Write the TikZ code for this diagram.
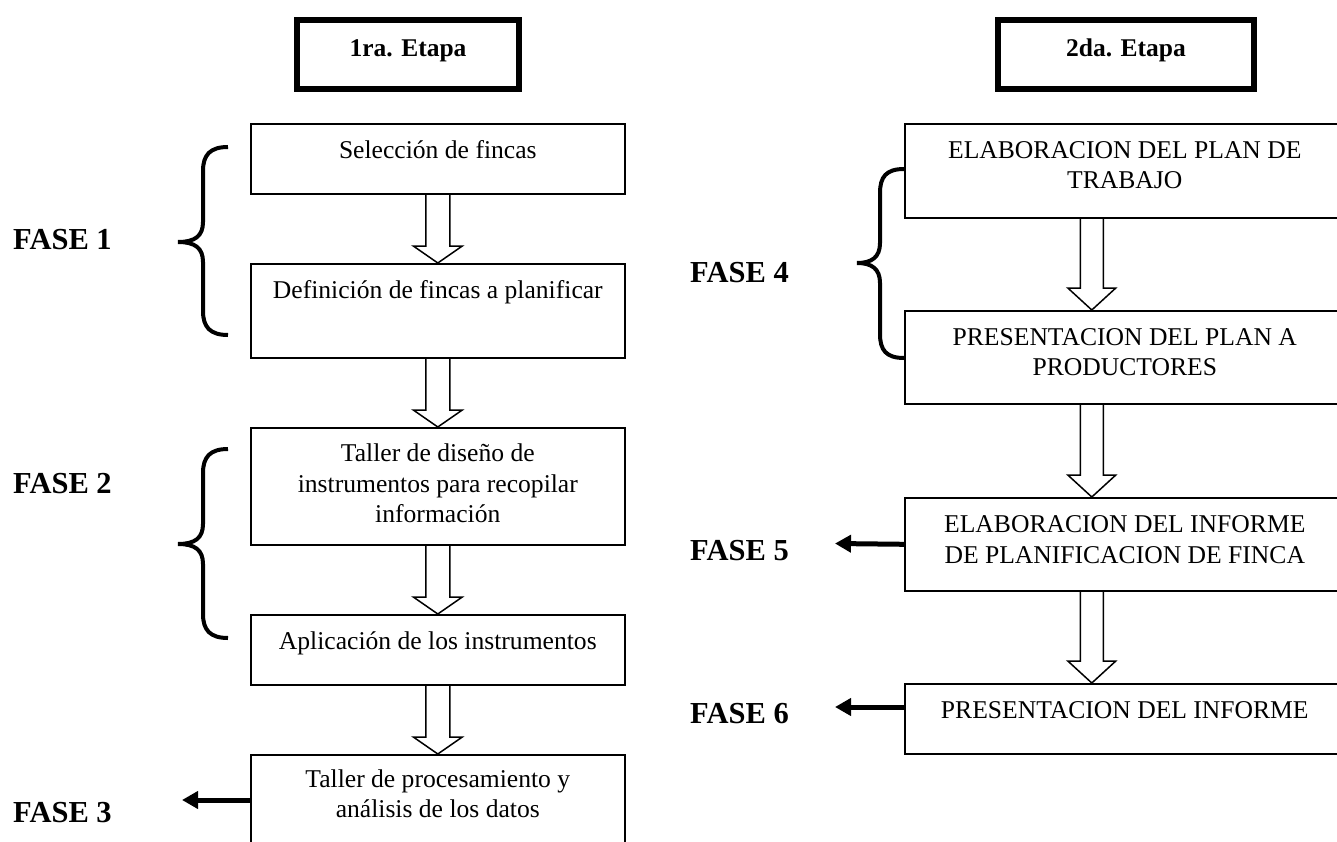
\documentclass[tikz,border=0pt]{standalone}
\usepackage{fontspec}
\setmainfont{Liberation Serif}
\usetikzlibrary{arrows.meta,calc}

\tikzset{
  stagebox/.style={draw, line width=6pt, inner sep=0pt},
  stagetext/.style={font=\bfseries\fontsize{25.5}{30}\selectfont, anchor=base, inner sep=0pt},
  flowbox/.style={draw, line width=1.6pt, inner sep=0pt, anchor=north west},
  boxtext/.style={font=\fontsize{25.6}{30.5}\selectfont, align=center, anchor=north, inner sep=0pt},
  faselabel/.style={font=\bfseries\fontsize{30.5}{34}\selectfont, anchor=base west, inner sep=0pt},
  bracepath/.style={line width=4pt},
  sidearrow/.style={line width=5pt, -{Triangle[length=16pt,width=17pt]}},
  blockarrow/.style={line width=1.5pt, line join=miter},
}

% block arrow from bottom of #1 to top of #2; #3 half shaft, #4 half head, #5 head length, #6 x offset
\newcommand\blockarr[6]{%
  \draw[blockarrow] let \p1=([xshift=#6pt]#1.south), \p2=(#2.north) in
   (\x1-#3pt,\y1) -- (\x1-#3pt,\y2+#5pt) -- (\x1-#4pt,\y2+#5pt) -- (\x1,\y2)
   -- (\x1+#4pt,\y2+#5pt) -- (\x1+#3pt,\y2+#5pt) -- (\x1+#3pt,\y1);}

% curly brace: #1 x of ends, #2 x of tip, #3 y top, #4 y tip, #5 y bottom, #6 x of spine
\newcommand\curlybrace[6]{%
  \draw[bracepath] (#1,#3) .. controls (#1-18,#3) and (#6,#3+8) .. (#6,#3+24)
    -- (#6,#4-20) .. controls (#6,#4-6) and (#6-8,#4) .. (#2,#4)
    .. controls (#6-8,#4) and (#6,#4+6) .. (#6,#4+20)
    -- (#6,#5-24) .. controls (#6,#5-8) and (#1-18,#5) .. (#1,#5);}

\begin{document}
\begin{tikzpicture}[x=1pt,y=-1pt]
\useasboundingbox (0,0) rectangle (1337,842);
\clip (0,0) rectangle (1337,842);
\fill[white] (0,0) rectangle (1337,842);

% stage headers
\node[stagebox, minimum width=222pt, minimum height=69pt] (e1) at (408,54.5) {};
\node[stagetext] (e1t) at ([yshift=-2.5pt]e1.center) {1ra. Etapa};
\node[stagebox, minimum width=256pt, minimum height=69pt] (e2) at (1126,54.5) {};
\node[stagetext] (e2t) at ([yshift=-2.5pt]e2.center) {2da. Etapa};

% left column
\node[flowbox, minimum width=374pt, minimum height=70pt] (b1) at (250,123) {};
\node[boxtext] (b1t) at ([yshift=-17.5pt]b1.north) {Selección de fincas};
\node[flowbox, minimum width=374pt, minimum height=94pt] (b2) at (250,263) {};
\node[boxtext] (b2t) at ([yshift=-17.5pt]b2.north) {Definición de fincas a planificar};
\node[flowbox, minimum width=374pt, minimum height=117pt] (b3) at (250,427) {};
\node[boxtext] (b3t) at ([yshift=-17pt]b3.north) {Taller de diseño de\\instrumentos para recopilar\\información};
\node[flowbox, minimum width=374pt, minimum height=70pt] (b4) at (250,614) {};
\node[boxtext] (b4t) at ([yshift=-17pt]b4.north) {Aplicación de los instrumentos};
\node[flowbox, minimum width=374pt, minimum height=120pt] (b5) at (250,754) {};
\node[boxtext] (b5t) at ([yshift=-15.5pt]b5.north) {Taller de procesamiento y\\análisis de los datos};

% right column
\node[flowbox, minimum width=440pt, minimum height=94pt] (r1) at (904,123) {};
\node[boxtext] (r1t) at ([yshift=-18pt]r1.north) {ELABORACION DEL PLAN DE\\TRABAJO};
\node[flowbox, minimum width=440pt, minimum height=93pt] (r2) at (904,310) {};
\node[boxtext] (r2t) at ([yshift=-18pt]r2.north) {PRESENTACION DEL PLAN A\\PRODUCTORES};
\node[flowbox, minimum width=440pt, minimum height=93pt] (r3) at (904,497) {};
\node[boxtext] (r3t) at ([yshift=-18.5pt]r3.north) {ELABORACION DEL INFORME\\DE PLANIFICACION DE FINCA};
\node[flowbox, minimum width=440pt, minimum height=70pt] (r4) at (904,683) {};
\node[boxtext] (r4t) at ([yshift=-18pt]r4.north) {PRESENTACION DEL INFORME};

% block arrows
\blockarr{b1}{b2}{12}{24.5}{17}{0}
\blockarr{b2}{b3}{12}{24.5}{17}{0}
\blockarr{b3}{b4}{12}{24.5}{17}{0}
\blockarr{b4}{b5}{12}{24.5}{17}{0}
\blockarr{r1}{r2}{11.5}{24}{22}{-33}
\blockarr{r2}{r3}{11.5}{24}{22}{-33}
\blockarr{r3}{r4}{11.5}{24}{22}{-33}

% braces
\curlybrace{228}{178}{147}{242}{335}{203}
\curlybrace{228}{178}{449}{544}{638}{203}
\curlybrace{904}{857}{169}{263}{358}{880}

% phase labels
\node[faselabel] (fase1) at (13,249.5) {FASE 1};
\node[faselabel] (fase2) at (13,493.5) {FASE 2};
\node[faselabel] (fase3) at (13,822.5) {FASE 3};
\node[faselabel] (fase4) at (690,282.5) {FASE 4};
\node[faselabel] (fase5) at (690,560.5) {FASE 5};
\node[faselabel] (fase6) at (690,723.5) {FASE 6};

% side arrows
\coordinate (f3tip) at (182,800);
\coordinate (f5tip) at (835,543.5);
\coordinate (f6tip) at (835,707);
\draw[sidearrow] (b5.west |- f3tip) -- (f3tip);
\draw[sidearrow] (r3.west) -- (f5tip);
\draw[sidearrow] (r4.west |- f6tip) -- (f6tip);
\end{tikzpicture}
\end{document}
